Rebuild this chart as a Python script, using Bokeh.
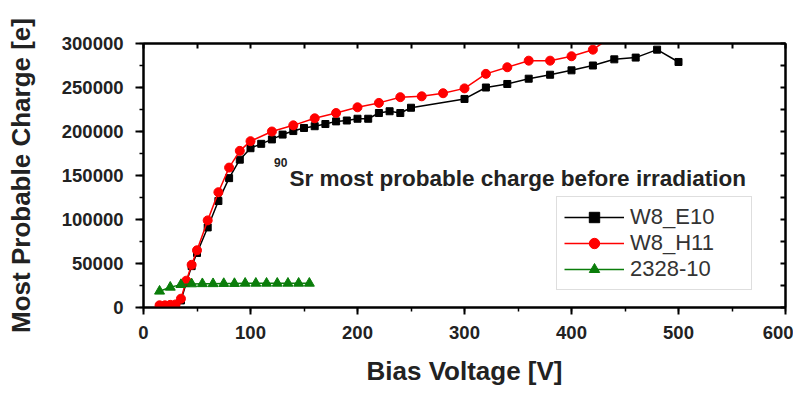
from bokeh.plotting import figure
from bokeh.models import (Range1d, LinearAxis, SingleIntervalTicker, BasicTickFormatter,
                          Label, CustomJSTickFormatter)
from bokeh.embed import file_html
from bokeh.resources import INLINE

# ---- data ----
e10_v = [15, 20, 25, 30, 35, 40, 45, 50, 60, 70, 80, 90, 100, 110, 120, 130, 140, 150,
         160, 170, 180, 190, 200, 210, 220, 230, 240, 250, 300, 320, 340, 360, 380,
         400, 420, 440, 460, 480, 500]
e10_q = [1000, 1000, 1500, 2000, 8000, 28000, 47000, 62000, 91000, 121000, 147000,
         168000, 181000, 186000, 191000, 196500, 200500, 204000, 206000, 208500,
         211500, 212500, 214500, 214500, 221000, 223000, 221000, 227000, 237000,
         250000, 254000, 260000, 264500, 269500, 275000, 282000, 284000, 293000, 279000]

h11_v = [15, 20, 25, 30, 35, 40, 45, 50, 60, 70, 80, 90, 100, 120, 140, 160, 180, 200,
         220, 240, 260, 280, 300, 320, 340, 360, 380, 400, 420, 440]
h11_q = [2500, 2500, 3000, 3500, 10000, 30500, 48500, 65000, 99000, 131000, 159000,
         178000, 189000, 200000, 207000, 215000, 221000, 227500, 232500, 239000,
         240000, 243500, 249000, 265500, 273000, 280500, 280500, 285500, 293000, 310000]

s2328_v = [15, 25, 35, 45, 55, 65, 75, 85, 95, 105, 115, 125, 135, 145, 155]
s2328_q = [18500, 23000, 26000, 26800, 27000, 27000, 27200, 27200, 27500, 27500,
           27500, 27500, 27500, 27500, 27500]

series_names = ["W8_E10", "W8_H11", "2328-10"]
x_title = "Bias Voltage [V]"
y_title = "Most Probable Charge [e]"
note_sup = "90"
note_text = "Sr most probable charge before irradiation"

FONT = "Liberation Sans"

p = figure(width=793, height=393, output_backend="svg", toolbar_location=None,
           x_range=Range1d(0, 600), y_range=Range1d(0, 300000),
           min_border_left=143, min_border_right=8, min_border_top=43,
           min_border_bottom=86)
p.grid.visible = False
p.outline_line_color = "black"
p.outline_line_width = 2
p.background_fill_color = "white"
p.border_fill_color = "white"

# series
p.line(e10_v, e10_q, line_color="black", line_width=1.5, legend_label=series_names[0])
p.scatter(e10_v, e10_q, marker="square", size=7, fill_color="black", line_color="black",
          legend_label=series_names[0])
p.line(h11_v, h11_q, line_color="#ff0000", line_width=1.5, legend_label=series_names[1])
p.scatter(h11_v, h11_q, marker="circle", size=9, fill_color="#ff0000", line_color="#ff0000",
          legend_label=series_names[1])
p.line(s2328_v, s2328_q, line_color="#0a7d0a", line_width=1.5, legend_label=series_names[2])
p.scatter(s2328_v, s2328_q, marker="triangle", size=10, fill_color="#0a7d0a",
          line_color="#0a7d0a", legend_label=series_names[2])

# axes
xa = p.xaxis[0]
xa.ticker = SingleIntervalTicker(interval=100, num_minor_ticks=2)
ya = p.yaxis[0]
ya.ticker = SingleIntervalTicker(interval=50000, num_minor_ticks=2)
ya.formatter = BasicTickFormatter(use_scientific=False)
for ax in (xa, ya):
    ax.axis_line_width = 2
    ax.axis_line_color = "black"
    ax.major_tick_line_width = 2
    ax.minor_tick_line_width = 1.5
    ax.major_tick_in = 0
    ax.minor_tick_in = 0
    ax.major_label_text_font = FONT
    ax.major_label_text_font_style = "bold"
    ax.major_label_text_font_size = "18.5px"
    ax.major_label_text_color = "#222222"
    ax.axis_label_text_font = FONT
    ax.axis_label_text_font_style = "bold"
    ax.axis_label_text_font_size = "26px"
    ax.axis_label_text_color = "#222222"
xa.major_tick_out = 7
xa.minor_tick_out = 4
xa.major_label_standoff = 11
xa.axis_label = x_title
xa.axis_label_standoff = 14
ya.major_tick_out = 8
ya.minor_tick_out = 4
ya.major_label_standoff = 12
ya.axis_label = y_title
ya.axis_label_standoff = 23

top = LinearAxis(ticker=SingleIntervalTicker(interval=50, num_minor_ticks=0),
                 formatter=CustomJSTickFormatter(code="return '';"))
right = LinearAxis(ticker=SingleIntervalTicker(interval=25000, num_minor_ticks=0),
                   formatter=CustomJSTickFormatter(code="return '';"))
for ax in (top, right):
    ax.axis_line_width = 2
    ax.major_tick_in = 5
    ax.major_tick_out = 0
    ax.major_tick_line_width = 2
    ax.minor_tick_line_color = None
    ax.major_label_text_font_size = "1px"
    ax.major_label_standoff = 0
p.add_layout(top, "above")
p.add_layout(right, "right")

# annotation
p.add_layout(Label(x=136.5, y=146200, text=note_text, text_font=FONT,
                   text_font_style="bold", text_font_size="22.5px",
                   text_color="#222222", text_baseline="alphabetic"))
p.add_layout(Label(x=122, y=164500, text=note_sup, text_font=FONT,
                   text_font_style="bold", text_font_size="12px",
                   text_color="#222222", text_baseline="alphabetic"))

# legend
lg = p.legend[0]
lg.location = (413, 17)
lg.label_text_font = FONT
lg.label_text_font_size = "22px"
lg.label_text_color = "#333333"
lg.glyph_width = 60
lg.glyph_height = 26
lg.label_height = 26
lg.label_width = 114
lg.label_standoff = 6
lg.padding = 7
lg.spacing = 0
lg.margin = 0
lg.border_line_color = "#bdbdbd"
lg.border_line_width = 1.5
lg.background_fill_alpha = 1

open("out.html", "w").write(file_html(p, INLINE))
